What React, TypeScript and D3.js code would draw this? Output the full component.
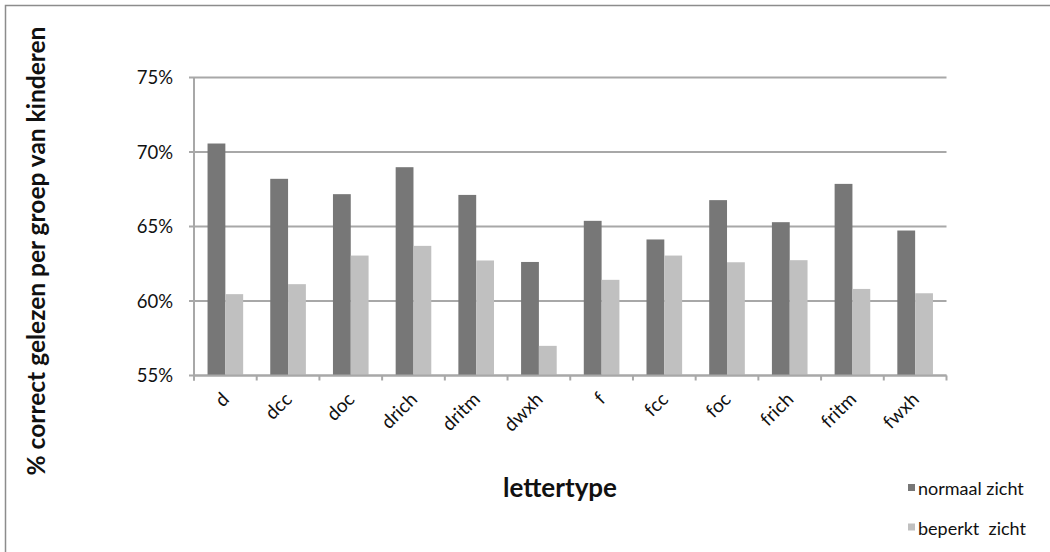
import React from "react";
import * as d3 from "d3";

const categories = ["d", "dcc", "doc", "drich", "dritm", "dwxh", "f", "fcc", "foc", "frich", "fritm", "fwxh"];
const normaalZicht = [70.57, 68.2, 67.17, 68.98, 67.12, 62.62, 65.38, 64.13, 66.77, 65.29, 67.86, 64.73];
const beperktZicht = [60.46, 61.13, 63.05, 63.7, 62.72, 56.99, 61.42, 63.05, 62.6, 62.74, 60.81, 60.52];
const seriesNames = ["normaal zicht", "beperkt  zicht"];
const seriesColors = ["#777777", "#c0c0c0"];
const yTicks = [55, 60, 65, 70, 75];

const W = 1050;
const H = 552;
const FONT = "Lato, 'Open Sans', sans-serif";

export default function App() {
  const left = 194;
  const right = 946.5;
  const top = 77.5;
  const bottom = 375.5;

  const y = d3.scaleLinear().domain([55, 75]).range([bottom, top]);
  const x = d3.scaleBand<string>().domain(categories).range([left, right]).padding(0);
  const inner = d3
    .scaleBand<number>()
    .domain([0, 1])
    .range([0, x.bandwidth()])
    .paddingInner(0)
    .paddingOuter(0.76);

  const series = [normaalZicht, beperktZicht];
  const gridColor = "#a8a8a8";

  const boundaries = categories.map((c) => x(c) as number).concat([right]);

  return (
    <svg
      width={W}
      height={H}
      style={{ position: "absolute", left: 0, top: 0, background: "#fff" }}
      fontFamily={FONT}
    >
      <rect x={5.5} y={5.5} width={W + 10} height={H + 10} fill="#fff" stroke="#8c8c8c" strokeWidth={1.5} />

      {/* horizontal gridlines and y ticks */}
      {yTicks.map((t) => (
        <g key={t}>
          <line x1={left - 5} x2={right} y1={y(t)} y2={y(t)} stroke={gridColor} strokeWidth={2} />
          <text x={173} y={y(t)} dy="0.36em" textAnchor="end" fontSize={18.5} fill="#111">
            {d3.format(".0f")(t)}%
          </text>
        </g>
      ))}

      {/* bars */}
      {series.map((vals, si) =>
        vals.map((v, i) => (
          <rect
            key={`${si}-${i}`}
            x={(x(categories[i]) as number) + (inner(si) as number)}
            y={y(v)}
            width={inner.bandwidth()}
            height={bottom - y(v)}
            fill={seriesColors[si]}
          />
        ))
      )}

      {/* axes */}
      <line x1={left} x2={left} y1={top} y2={bottom + 5} stroke={gridColor} strokeWidth={2} />
      <line x1={left} x2={right} y1={bottom} y2={bottom} stroke={gridColor} strokeWidth={2} />
      {boundaries.map((b, i) => (
        <line key={i} x1={b} x2={b} y1={bottom} y2={bottom + 5} stroke={gridColor} strokeWidth={2} />
      ))}

      {/* category labels, turned 45 degrees */}
      {categories.map((c) => {
        const cx = (x(c) as number) + x.bandwidth() / 2;
        const ax = cx + 5;
        const ay = bottom + 25;
        return (
          <text
            key={c}
            x={0}
            y={0}
            textAnchor="end"
            fontSize={19}
            fill="#111"
            style={{ transform: `translate(${ax}px, ${ay}px) rotate(-45deg)`, transformOrigin: "0 0" }}
          >
            {c}
          </text>
        );
      })}

      {/* axis titles */}
      <text x={560} y={497} textAnchor="middle" fontSize={26} fontWeight="bold" fill="#111">
        lettertype
      </text>
      <g transform="translate(45,251) rotate(-90)">
        <text x={0} y={0} textAnchor="middle" fontSize={24.5} fontWeight="bold" fill="#111">
          % correct gelezen per groep van kinderen
        </text>
      </g>

      {/* legend */}
      {seriesNames.map((n, i) => (
        <g key={n} transform={`translate(908,${484 + i * 39.5})`}>
          <rect x={0} y={0} width={7} height={7} fill={seriesColors[i]} />
          <text x={10} y={11} fontSize={18} fill="#111" style={{ whiteSpace: "pre" }}>
            {n}
          </text>
        </g>
      ))}
    </svg>
  );
}
